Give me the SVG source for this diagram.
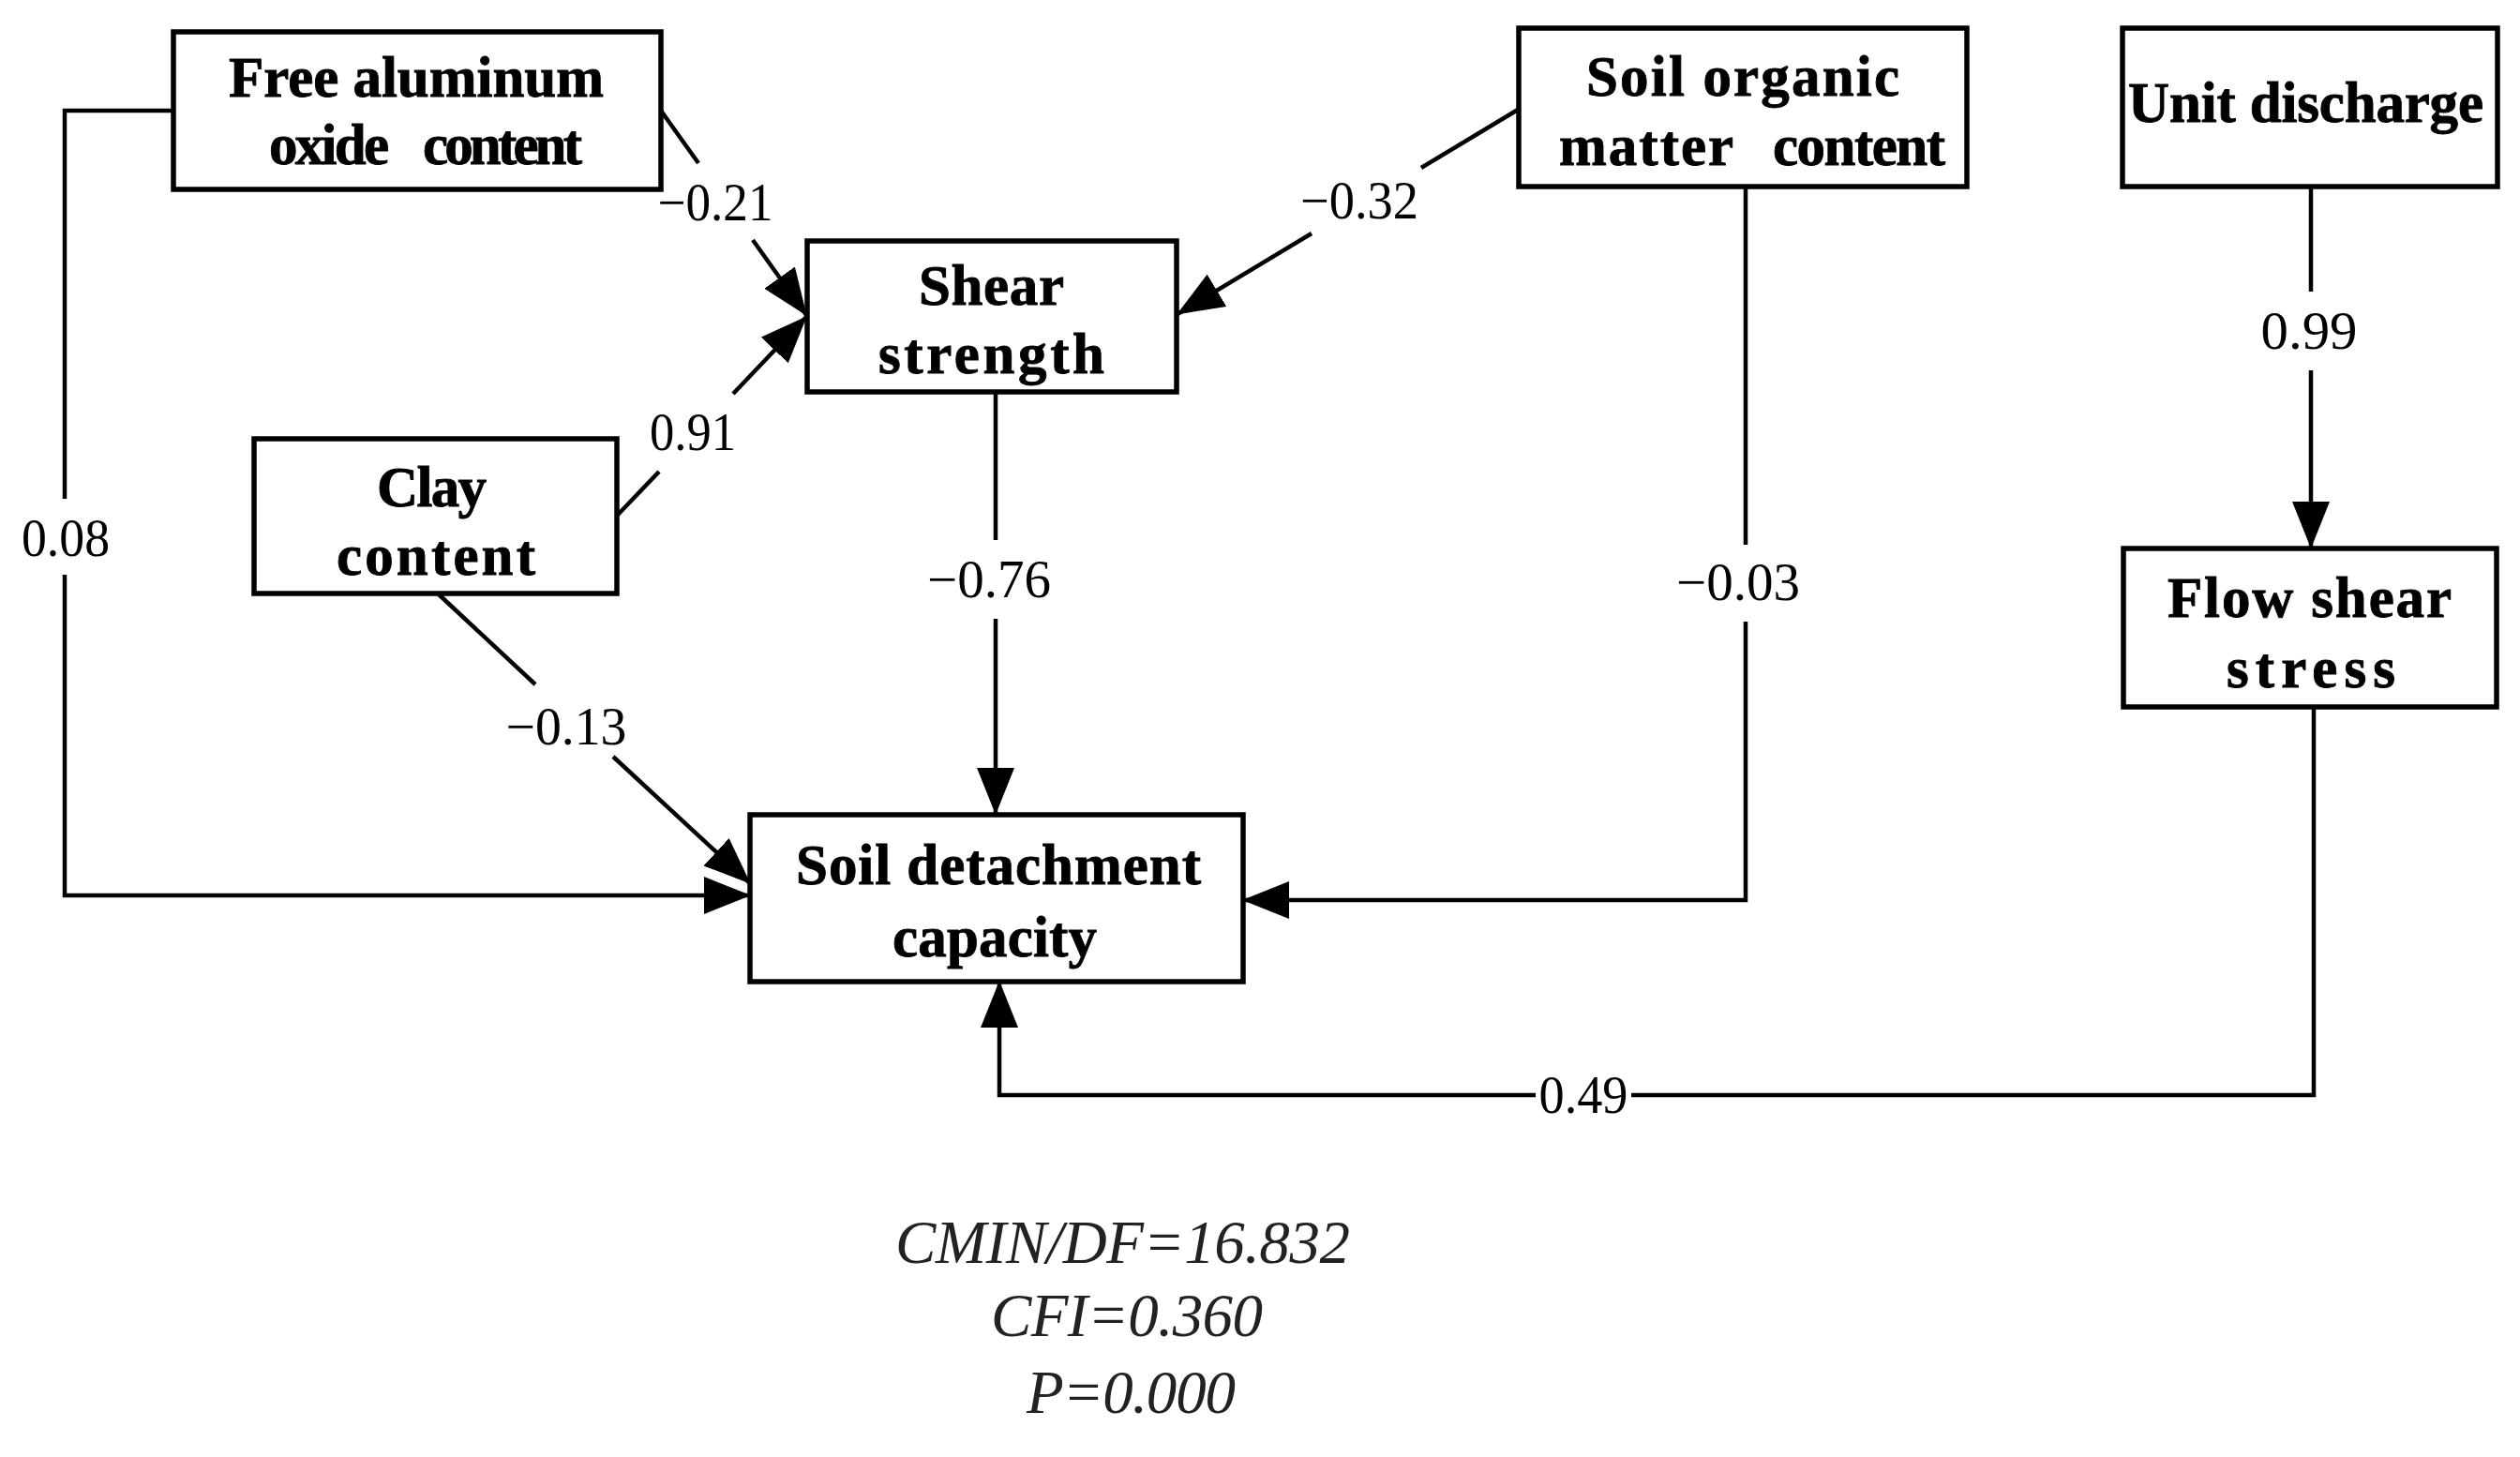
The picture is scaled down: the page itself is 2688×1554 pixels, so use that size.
<svg xmlns="http://www.w3.org/2000/svg" width="2688" height="1554" viewBox="0 0 2688 1554">
<style>
.box{fill:#fff;stroke:#000;stroke-width:5.5}
.nt{font-family:"Liberation Serif","Times New Roman",serif;font-weight:bold;font-size:61px;fill:#000;stroke:#000;stroke-width:0.9}
.lbl{font-family:"Liberation Serif","Times New Roman",serif;font-size:57px;fill:#000;text-anchor:middle}
.fit{font-family:"Liberation Serif","Times New Roman",serif;font-style:italic;font-size:65px;fill:#222}
.edge{fill:none;stroke:#000;stroke-width:4.5}
</style>
<defs>
<marker id="ah" viewBox="0 0 50 40" refX="49" refY="20" markerWidth="50" markerHeight="40" markerUnits="userSpaceOnUse" orient="auto">
<path d="M0,0 L50,20 L0,40 Z" fill="#000"/>
</marker>
</defs>
<rect width="2688" height="1554" fill="#fff"/>
<g id="connectors">
<path class="edge" d="M185,118 H69 V532 M69,613 V955 H800" marker-end="url(#ah)"/>
<path class="edge" d="M705,118 L745,174 M803,256 L860,336" marker-end="url(#ah)"/>
<path class="edge" d="M659,549 L703,503 M782,420 L860,338" marker-end="url(#ah)"/>
<path class="edge" d="M1619,117 L1516,179 M1399,249 L1256,335" marker-end="url(#ah)"/>
<path class="edge" d="M1062,418 V576 M1062,660 V868" marker-end="url(#ah)"/>
<path class="edge" d="M1862,199 V581 M1862,663 V960 H1326" marker-end="url(#ah)"/>
<path class="edge" d="M2465,199 V311 M2465,395 V584" marker-end="url(#ah)"/>
<path class="edge" d="M2468,754 V1168 H1740 M1638,1168 H1066 V1047" marker-end="url(#ah)"/>
<path class="edge" d="M468,634 L571,730 M654,807 L800,942" marker-end="url(#ah)"/>
<text class="lbl" x="70" y="593" textLength="94" lengthAdjust="spacingAndGlyphs">0.08</text>
<text class="lbl" x="763" y="235" textLength="123" lengthAdjust="spacingAndGlyphs">−0.21</text>
<text class="lbl" x="739" y="480" textLength="92" lengthAdjust="spacingAndGlyphs">0.91</text>
<text class="lbl" x="1450" y="233" textLength="126" lengthAdjust="spacingAndGlyphs">−0.32</text>
<text class="lbl" x="604" y="794" textLength="129" lengthAdjust="spacingAndGlyphs">−0.13</text>
<text class="lbl" x="1055" y="637" textLength="132" lengthAdjust="spacingAndGlyphs">−0.76</text>
<text class="lbl" x="1854" y="640" textLength="132" lengthAdjust="spacingAndGlyphs">−0.03</text>
<text class="lbl" x="2463" y="372" textLength="103" lengthAdjust="spacingAndGlyphs">0.99</text>
<text class="lbl" x="1689" y="1187" textLength="95" lengthAdjust="spacingAndGlyphs">0.49</text>
</g>
<g id="node-free-aluminum">
<rect class="box" x="185" y="34" width="520" height="168"/>
<text class="nt" x="244" y="103" textLength="400">Free aluminum</text>
<text class="nt" y="175"><tspan x="287" textLength="128">oxide</tspan> <tspan x="451" textLength="170">content</tspan></text>
</g>
<g id="node-shear-strength">
<rect class="box" x="861" y="257" width="394" height="161"/>
<text class="nt" x="980" y="325" textLength="155">Shear</text>
<text class="nt" x="937" y="398" textLength="241">strength</text>
</g>
<g id="node-soil-organic">
<rect class="box" x="1620" y="30" width="478" height="169"/>
<text class="nt" x="1692" y="102" textLength="334">Soil organic</text>
<text class="nt" y="176"><tspan x="1663" textLength="185">matter</tspan> <tspan x="1891" textLength="184">content</tspan></text>
</g>
<g id="node-unit-discharge">
<rect class="box" x="2264" y="30" width="400" height="169"/>
<text class="nt" x="2270" y="130" textLength="379">Unit discharge</text>
</g>
<g id="node-flow-shear">
<rect class="box" x="2265" y="585" width="398" height="169"/>
<text class="nt" x="2312" y="658" textLength="303">Flow shear</text>
<text class="nt" x="2375" y="733" textLength="180">stress</text>
</g>
<g id="node-clay">
<rect class="box" x="271" y="468" width="387" height="165"/>
<text class="nt" x="402" y="540" textLength="117">Clay</text>
<text class="nt" x="359" y="613" textLength="212">content</text>
</g>
<g id="node-soil-detachment">
<rect class="box" x="800" y="869" width="526" height="178"/>
<text class="nt" x="849" y="943" textLength="432">Soil detachment</text>
<text class="nt" x="952" y="1020" textLength="218">capacity</text>
</g>
<g id="fit-stats">
<text class="fit" x="955" y="1347" textLength="485">CMIN/DF=16.832</text>
<text class="fit" x="1057" y="1425" textLength="290">CFI=0.360</text>
<text class="fit" x="1095" y="1507" textLength="223">P=0.000</text>
</g>
</svg>
